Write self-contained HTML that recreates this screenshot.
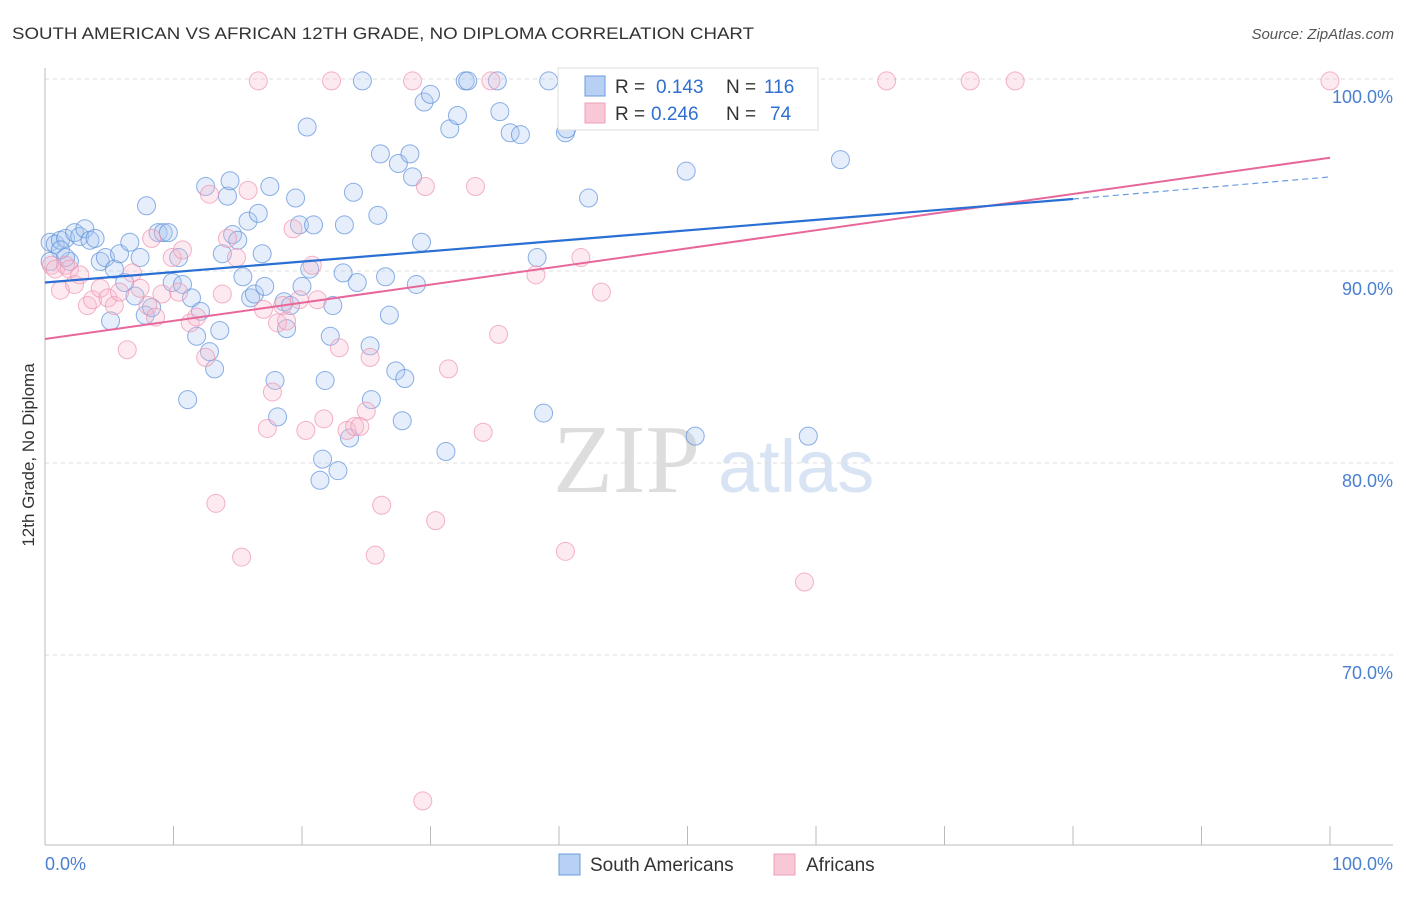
<!DOCTYPE html>
<html><head><meta charset="utf-8"><style>
body{margin:0;background:#fff;font-family:"Liberation Sans",sans-serif}
svg text{font-family:"Liberation Sans",sans-serif}
</style></head><body>
<svg id="chart" width="1406" height="892" xmlns="http://www.w3.org/2000/svg">
<text x="12" y="39" font-size="17" fill="#333" textLength="742" lengthAdjust="spacingAndGlyphs">SOUTH AMERICAN VS AFRICAN 12TH GRADE, NO DIPLOMA CORRELATION CHART</text>
<text x="1394" y="39" font-size="15" fill="#555" text-anchor="end" font-style="italic">Source: ZipAtlas.com</text>
<text x="34" y="455" font-size="17" fill="#333" text-anchor="middle" transform="rotate(-90 34 455)">12th Grade, No Diploma</text>
<g>
<text x="553" y="492" font-size="98" fill="#ddd" font-family="Liberation Serif" style="font-family:'Liberation Serif',serif">ZIP</text>
<text x="718" y="492" font-size="74" fill="#d8e4f4">atlas</text>
</g>
<g id="grid"></g><g id="axes"></g><g id="pts"></g><g id="lines"></g>
<g>
<rect x="558" y="68" width="260" height="62" fill="#fff" stroke="#ddd"/>
<rect x="585" y="76" width="20" height="20" fill="#b8d0f4" stroke="#6a9be0"/>
<text x="615" y="93" font-size="19" fill="#333">R =</text><text x="656" y="93" font-size="19" fill="#2f6fd0">0.143</text>
<text x="726" y="93" font-size="19" fill="#333">N =</text><text x="764" y="93" font-size="19" fill="#2f6fd0">116</text>
<rect x="585" y="103" width="20" height="20" fill="#f9c8d6" stroke="#f0a0ba"/>
<text x="615" y="120" font-size="19" fill="#333">R =</text><text x="651" y="120" font-size="19" fill="#2f6fd0">0.246</text>
<text x="726" y="120" font-size="19" fill="#333">N =</text><text x="770" y="120" font-size="19" fill="#2f6fd0">74</text>
</g>
<g>
<rect x="559" y="854" width="21" height="21" fill="#b8d0f4" stroke="#6a9be0"/>
<text x="590" y="871" font-size="19" fill="#333">South Americans</text>
<rect x="774" y="854" width="21" height="21" fill="#f9c8d6" stroke="#f0a0ba"/>
<text x="806" y="871" font-size="19" fill="#333">Africans</text>
</g>
<text x="45" y="870" font-size="18" fill="#4a7fd0">0.0%</text>
<text x="1393" y="870" font-size="18" fill="#4a7fd0" text-anchor="end">100.0%</text>
</svg>
<script>
const yTicks=[100,90,80,70];
const yTickLabels=["100.0%","90.0%","80.0%","70.0%"];
const xTicks=[0,10,20,30,40,50,60,70,80,90,100];
const blueX=[0.4,0.8,1.2,1.6,1.9,2.3,2.7,3.1,3.5,3.9,4.3,4.7,5.1,5.4,5.8,6.2,6.6,7.0,7.4,7.8,7.9,8.3,8.8,9.2,9.6,9.9,10.4,10.7,11.1,11.4,11.8,12.1,12.5,12.8,13.2,13.6,13.8,14.2,14.4,14.6,15.0,15.4,15.8,16.0,16.3,16.6,16.9,17.1,17.5,17.9,18.1,18.6,18.8,19.1,19.5,19.8,20.0,20.4,20.6,20.9,21.4,21.6,21.8,22.2,22.4,22.8,23.2,23.3,23.7,24.0,24.3,24.7,25.3,25.4,25.9,26.1,26.5,26.8,27.3,27.5,27.8,28.0,28.4,28.6,28.9,29.3,29.5,30.0,31.2,31.5,32.1,32.7,32.9,35.2,35.4,36.2,37.0,38.3,38.8,39.2,40.5,40.6,41.2,42.3,49.9,50.6,59.4,61.9,1.2,0.4,1.6];
const blueY=[91.5,91.4,91.6,91.7,90.5,92.0,91.8,92.2,91.6,91.7,90.5,90.7,87.4,90.1,90.9,89.4,91.5,88.7,90.7,87.7,93.4,88.1,92.0,92.0,92.0,89.4,90.7,89.3,83.3,88.6,86.6,87.9,94.4,85.8,84.9,86.9,90.9,93.9,94.7,91.9,91.6,89.7,92.6,88.6,88.8,93.0,90.9,89.2,94.4,84.3,82.4,88.4,87.0,88.2,93.8,92.4,89.2,97.5,90.1,92.4,79.1,80.2,84.3,86.6,88.2,79.6,89.9,92.4,81.3,94.1,89.4,99.9,86.1,83.3,92.9,96.1,89.7,87.7,84.8,95.6,82.2,84.4,96.1,94.9,89.3,91.5,98.8,99.2,80.6,97.4,98.1,99.9,99.9,99.9,98.3,97.2,97.1,90.7,82.6,99.9,97.2,97.4,98.5,93.8,95.2,81.4,81.4,95.8,91.1,90.5,90.7];
const pinkX=[0.5,0.8,1.2,1.6,1.9,2.3,2.7,3.3,3.7,4.3,4.9,5.4,5.8,6.4,6.8,7.4,8.0,8.3,8.6,9.1,9.9,10.4,10.7,11.3,11.8,12.5,12.8,13.3,13.8,14.2,14.9,15.3,15.8,16.6,17.0,17.3,17.7,18.1,18.5,18.8,19.3,19.8,20.3,20.8,21.2,21.7,22.3,22.9,23.5,24.1,24.5,25.0,25.3,25.7,26.2,28.6,29.6,29.4,30.4,31.4,33.5,34.1,34.7,35.3,38.2,40.5,41.7,43.3,52.3,55.5,59.1,65.5,72.0,75.5,100];
const pinkY=[90.3,90.1,89.0,90.3,90.1,89.3,89.8,88.2,88.5,89.1,88.6,88.2,88.9,85.9,89.9,89.1,88.2,91.7,87.6,88.8,90.7,88.9,91.1,87.3,87.6,85.5,94.0,77.9,88.8,91.7,90.7,75.1,94.2,99.9,88.0,81.8,83.7,87.3,88.2,87.4,92.2,88.5,81.7,90.3,88.5,82.3,99.9,86.0,81.7,81.9,81.9,82.7,85.5,75.2,77.8,99.9,94.4,62.4,77.0,84.9,94.4,81.6,99.9,86.7,89.8,75.4,90.7,88.9,99.9,99.3,73.8,99.9,99.9,99.9,99.9];
const blueLine=[[0,89.4],[80,93.75]];
const blueDash=[[80,93.75],[100,94.9]];
const pinkLine=[[0,86.46],[100,95.9]];
const NS="http://www.w3.org/2000/svg";
const sx=v=>45+v*12.85;
const sy=v=>79+(100-v)*19.2;
function mk(tag,attrs,parent){const e=document.createElementNS(NS,tag);for(const k in attrs)e.setAttribute(k,attrs[k]);parent.appendChild(e);return e;}
const grid=document.getElementById('grid'),axes=document.getElementById('axes'),pts=document.getElementById('pts'),lines=document.getElementById('lines');
yTicks.forEach((t,i)=>{
 const l=mk('line',{x1:45,x2:1393,y1:sy(t),y2:sy(t),stroke:'#ddd','stroke-dasharray':'4,4'},grid);
 
 
 const tx=mk('text',{x:1393,y:sy(t)+24,'font-size':18,fill:'#4a7fd0','text-anchor':'end'},grid);
 tx.textContent=yTickLabels[i];
 
 
});
const ya=mk('line',{x1:45,x2:45,y1:68,y2:845,stroke:'#bbb'},axes);


const xa=mk('line',{x1:45,x2:1393,y1:845,y2:845,stroke:'#bbb'},axes);


xTicks.forEach(t=>{
 const l=mk('line',{x1:sx(t),x2:sx(t),y1:826,y2:845,stroke:'#bbb'},axes);
 
 
});
function dots(X,Y,fill,stroke,name){X.forEach((x,i)=>{
 const c=mk('circle',{cx:sx(x),cy:sy(Y[i]),r:9,fill:fill,'fill-opacity':0.3,stroke:stroke,'stroke-width':1,'stroke-opacity':0.7},pts);
 
 
});}
dots(blueX,blueY,'#a8c6f0','#5b8fdc','south-american-point');
dots(pinkX,pinkY,'#f7b8cc','#ee93b0','african-point');
function ln(p,stroke,dash,name,w){
 const l=mk('line',{x1:sx(p[0][0]),y1:sy(p[0][1]),x2:sx(p[1][0]),y2:sy(p[1][1]),stroke:stroke,'stroke-width':w},lines);
 if(dash)l.setAttribute('stroke-dasharray',dash);
 
 
}
ln(pinkLine,'#e8679a',null,'african-trend-line',2);
ln(blueLine,'#2a6fd4',null,'south-american-trend-line',2.2);
ln(blueDash,'#6a9be0','6,4','south-american-trend-extension',1.2);
</script>
</body></html>
